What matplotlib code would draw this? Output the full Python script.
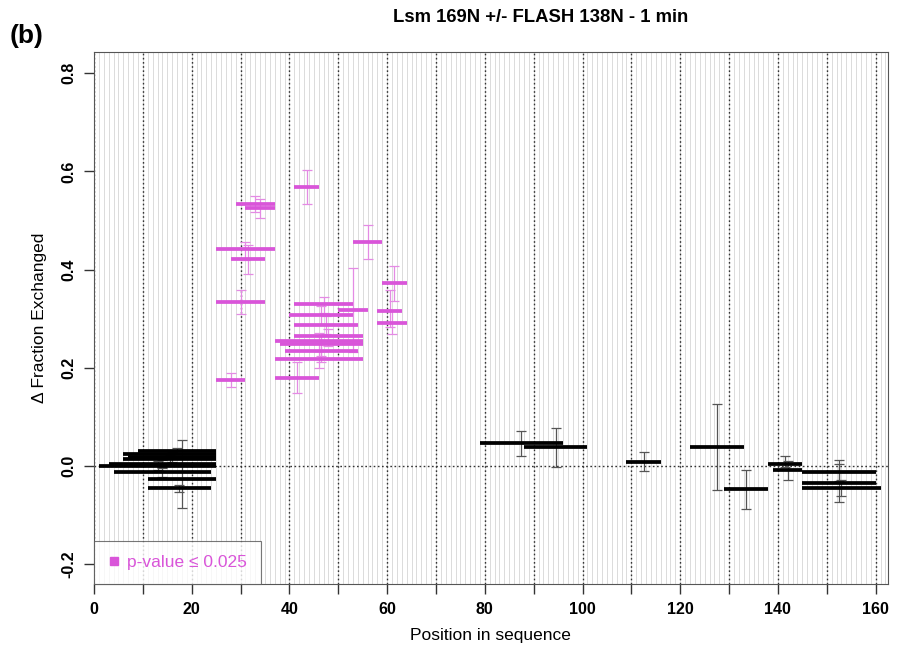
import matplotlib
matplotlib.use("Agg")
import matplotlib.pyplot as plt
import numpy as np

plt.rcParams['font.family'] = ['Liberation Sans', 'DejaVu Sans']

# significant peptides (p-value <= 0.025): start, end, delta, error low, error high
sig_start = [29, 31, 25, 28, 25, 25, 41, 53, 59, 58, 58, 50, 41, 40, 41, 41, 37, 38, 39, 37, 37]
sig_end = [37, 37, 37, 35, 35, 31, 46, 59, 64, 63, 64, 56, 53, 53, 54, 55, 55, 55, 54, 55, 46]
sig_val = [0.534, 0.525, 0.442, 0.422, 0.334, 0.176, 0.568, 0.457, 0.373, 0.316, 0.291,
           0.317, 0.329, 0.308, 0.288, 0.264, 0.254, 0.249, 0.234, 0.218, 0.180]
sig_lo = [0.518, 0.506, 0.420, 0.392, 0.310, 0.161, 0.534, 0.422, 0.337, 0.283, 0.268,
          0.232, 0.312, 0.290, 0.268, 0.245, 0.235, 0.225, 0.212, 0.200, 0.148]
sig_hi = [0.550, 0.543, 0.457, 0.450, 0.358, 0.190, 0.603, 0.491, 0.408, 0.358, 0.317,
          0.404, 0.345, 0.325, 0.305, 0.280, 0.270, 0.265, 0.250, 0.235, 0.212]

# non significant peptides
ns_start = [9, 6, 7, 6, 1, 3, 4, 11, 11, 79, 88, 109, 122, 129, 138, 139, 145, 145, 145]
ns_end = [25, 25, 25, 25, 25, 25, 24, 25, 24, 96, 101, 116, 133, 138, 145, 145, 160, 160, 161]
ns_val = [0.031, 0.024, 0.019, 0.014, 0.000, 0.004, -0.012, -0.026, -0.045, 0.046, 0.038,
          0.009, 0.039, -0.047, 0.005, -0.008, -0.013, -0.035, -0.044]
ns_lo = [0.026, 0.018, 0.008, 0.004, -0.008, -0.004, -0.022, -0.086, -0.052, 0.021, -0.001,
         -0.010, -0.049, -0.088, -0.002, -0.028, -0.030, -0.073, -0.060]
ns_hi = [0.036, 0.030, 0.028, 0.022, 0.010, 0.012, -0.002, 0.053, -0.038, 0.072, 0.078,
         0.028, 0.127, -0.007, 0.020, 0.011, 0.004, 0.012, -0.028]

x_ticks = list(range(0, 161, 10))
x_labels = [str(t) if t % 20 == 0 else '' for t in x_ticks]
y_ticks = [-0.2, 0.0, 0.2, 0.4, 0.6, 0.8]
y_labels = ['-0.2', '0.0', '0.2', '0.4', '0.6', '0.8']

pink = '#D955D9'
pink_err = '#E48BE4'

fig = plt.figure(figsize=(8.97, 6.58), dpi=100)
ax = fig.add_axes([0.1048, 0.1125, 0.885, 0.8085])
ax.set_xlim(0, 162.5)
ax.set_ylim(-0.24, 0.843)

# background grid: one grey line per residue, dotted black every 10
for r in range(0, 163):
    ax.axvline(r, color='#d6d6d6', lw=0.6, zorder=0)
for t in x_ticks:
    ax.axvline(t, color='#333333', lw=1.0, ls=(0, (1.2, 1.8)), zorder=1)
ax.axhline(0, color='#333333', lw=1.0, ls=(0, (1.2, 1.8)), zorder=1)

def draw(starts, ends, vals, lo, hi, col, ecol):
    s = np.array(starts, float)
    e = np.array(ends, float)
    v = np.array(vals)
    mid = (s + e) / 2
    yerr = [v - np.array(lo), np.array(hi) - v]
    ax.errorbar(mid, v, yerr=yerr, fmt='none', ecolor=ecol, elinewidth=0.9,
                capsize=3.5, capthick=0.9, zorder=2)
    ax.hlines(v, s, e, colors=col, lw=2.7, zorder=3)

draw(ns_start, ns_end, ns_val, ns_lo, ns_hi, 'black', '#555555')
draw(sig_start, sig_end, sig_val, sig_lo, sig_hi, pink, pink_err)

ax.set_xticks(x_ticks)
ax.set_xticklabels(x_labels, fontsize=11.5, fontweight='bold')
ax.set_yticks(y_ticks)
ax.set_yticklabels(y_labels, fontsize=11.5, fontweight='bold', rotation=90, va='center')
ax.tick_params(length=7, width=1, color='#333333', pad=6)
for sp in ax.spines.values():
    sp.set_color('#555555')
    sp.set_linewidth(0.8)

ax.set_xlabel('Position in sequence', fontsize=12.5, labelpad=8)
ax.set_ylabel('Δ Fraction Exchanged', fontsize=12.5, labelpad=10)
fig.text(541 / 897, 1 - 18 / 658, 'Lsm 169N +/- FLASH 138N - 1 min', fontsize=13.3,
         fontweight='bold', ha='center', va='center')
fig.text(0.011, 0.935, '(b)', fontsize=19, fontweight='bold')

ax.plot([], [], 's', color=pink, ms=6, label='p-value ≤ 0.025')
leg = ax.legend(loc='lower left', fontsize=12.5, frameon=True, fancybox=False,
                borderaxespad=0, handlelength=0.7, handletextpad=0.4, borderpad=0.8,
                labelcolor=pink)
leg.get_frame().set_edgecolor('#555555')
leg.get_frame().set_linewidth(0.8)

fig.savefig('out.png', dpi=100)
